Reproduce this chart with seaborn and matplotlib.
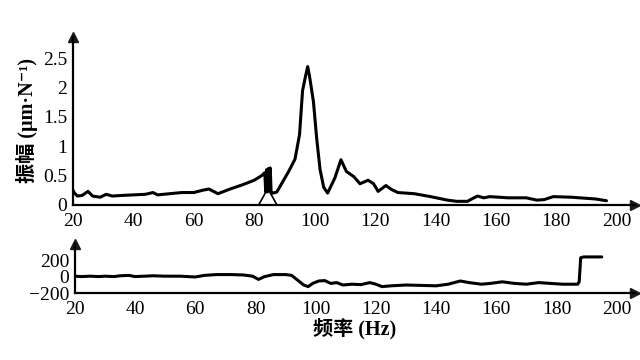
import matplotlib
matplotlib.use("Agg")
import matplotlib.pyplot as plt
import seaborn as sns

# 幅频曲线
freq = [20, 20.5, 21.5, 23, 25, 26.5, 29, 31, 33, 36, 40, 44, 46.5, 48, 52, 56,
        60, 63, 65, 68, 72, 76, 80, 82.5, 83.5, 83.8, 84.1, 84.4, 84.7, 85.0,
        85.3, 85.6, 86.2, 87.5, 89.5, 91.5, 93.5, 95, 96, 97, 97.7, 98.3, 99.6,
        100.7, 101.8, 103, 104.3, 106.7, 108.7, 110.5, 113, 115, 117.7, 119.5,
        121, 123.6, 125.5, 127.6, 133, 138.4, 144, 147, 150.6, 152, 153.9, 156,
        158, 164, 170, 173.6, 176, 179, 185, 193, 196.6]
amp = [0.25, 0.2, 0.15, 0.16, 0.23, 0.15, 0.13, 0.18, 0.15, 0.16, 0.17, 0.18,
       0.21, 0.17, 0.19, 0.21, 0.21, 0.25, 0.27, 0.19, 0.27, 0.34, 0.42, 0.5,
       0.55, 0.22, 0.6, 0.22, 0.62, 0.25, 0.63, 0.2, 0.2, 0.22, 0.4, 0.58, 0.78,
       1.2, 1.95, 2.2, 2.36, 2.2, 1.76, 1.12, 0.6, 0.3, 0.2, 0.46, 0.77, 0.57,
       0.48, 0.36, 0.42, 0.36, 0.23, 0.33, 0.26, 0.21, 0.19, 0.14, 0.08, 0.06,
       0.06, 0.1, 0.15, 0.12, 0.14, 0.12, 0.12, 0.08, 0.09, 0.14, 0.13, 0.1, 0.07]

# 85 Hz 附近的小三角
tent_freq = [81.5, 84.5, 87.5]
tent_amp = [0.0, 0.28, 0.0]

# 相频曲线
pfreq = [20, 22, 25, 28, 30, 33, 35, 38, 40, 43, 46, 50, 55, 60, 63, 67, 72, 76,
         79, 81, 83, 86, 90, 92, 94, 96, 97.5, 99, 101, 103, 105, 107, 109, 112,
         115, 118, 120, 122, 125, 130, 135, 140, 144, 148, 151, 155, 158, 162,
         166, 170, 174, 178, 182, 187, 187.5, 188, 189, 195]
phase = [10, 5, 10, 5, 10, 5, 15, 20, 5, 10, 15, 10, 10, 0, 20, 30, 30, 25, 10,
         -30, 5, 30, 30, 20, -40, -100, -120, -80, -50, -45, -80, -70, -100, -90,
         -95, -70, -90, -120, -110, -100, -105, -110, -90, -50, -70, -90, -80,
         -60, -80, -90, -70, -80, -90, -90, -60, 240, 250, 250]

xticks = [20, 40, 60, 80, 100, 120, 140, 160, 180, 200]
amp_ticks = [0, 0.5, 1, 1.5, 2, 2.5]
amp_labels = ['0', '0.5', '1', '1.5', '2', '2.5']
phase_ticks = [-200, 0, 200]
phase_labels = ['\u2212200', '0', '200']

sns.set_theme(style="white")
plt.rcParams['font.family'] = ['Liberation Serif', 'Noto Sans CJK SC', 'DejaVu Sans']
plt.rcParams['axes.unicode_minus'] = False

fig = plt.figure(figsize=(6.4, 3.6), dpi=100)
ax1 = fig.add_axes([0.114, 0.431, 0.878, 0.467])
ax2 = fig.add_axes([0.117, 0.186, 0.875, 0.136])

sns.lineplot(x=freq, y=amp, ax=ax1, color='black', linewidth=2.2,
             sort=False, estimator=None)
sns.lineplot(x=tent_freq, y=tent_amp, ax=ax1, color='black', linewidth=1.2,
             sort=False, estimator=None)
sns.lineplot(x=pfreq, y=phase, ax=ax2, color='black', linewidth=2.2,
             sort=False, estimator=None)

ax1.set_xlim(20, 206)
ax1.set_ylim(0, 2.87)
ax1.set_yticks(amp_ticks)
ax1.set_yticklabels(amp_labels)
ax2.set_xlim(20, 206)
ax2.set_ylim(-200, 410)
ax2.set_yticks(phase_ticks)
ax2.set_yticklabels(phase_labels)

for ax in (ax1, ax2):
    ax.set_xticks(xticks)
    sns.despine(ax=ax)
    for s in ('left', 'bottom'):
        ax.spines[s].set_color('black')
        ax.spines[s].set_linewidth(1.6)
    ax.tick_params(direction='in', length=5, width=1.3, colors='black',
                   labelsize=14)
    ax.tick_params(axis='x', pad=6)
    ax.tick_params(axis='y', pad=4)
    ax.plot(1, 0, '>k', markersize=7, transform=ax.transAxes, clip_on=False)
    ax.plot(0, 1, '^k', markersize=7, transform=ax.transAxes, clip_on=False)

ax1.set_ylabel('振幅 (μm·N⁻¹)', fontsize=14.5, color='black', labelpad=4)
ax1.yaxis.label.set_fontweight('bold')
ax2.set_xlabel('频率 (Hz)', fontsize=14.5, color='black', labelpad=0)
ax2.xaxis.label.set_fontweight('bold')

plt.savefig('out.png', dpi=100)
